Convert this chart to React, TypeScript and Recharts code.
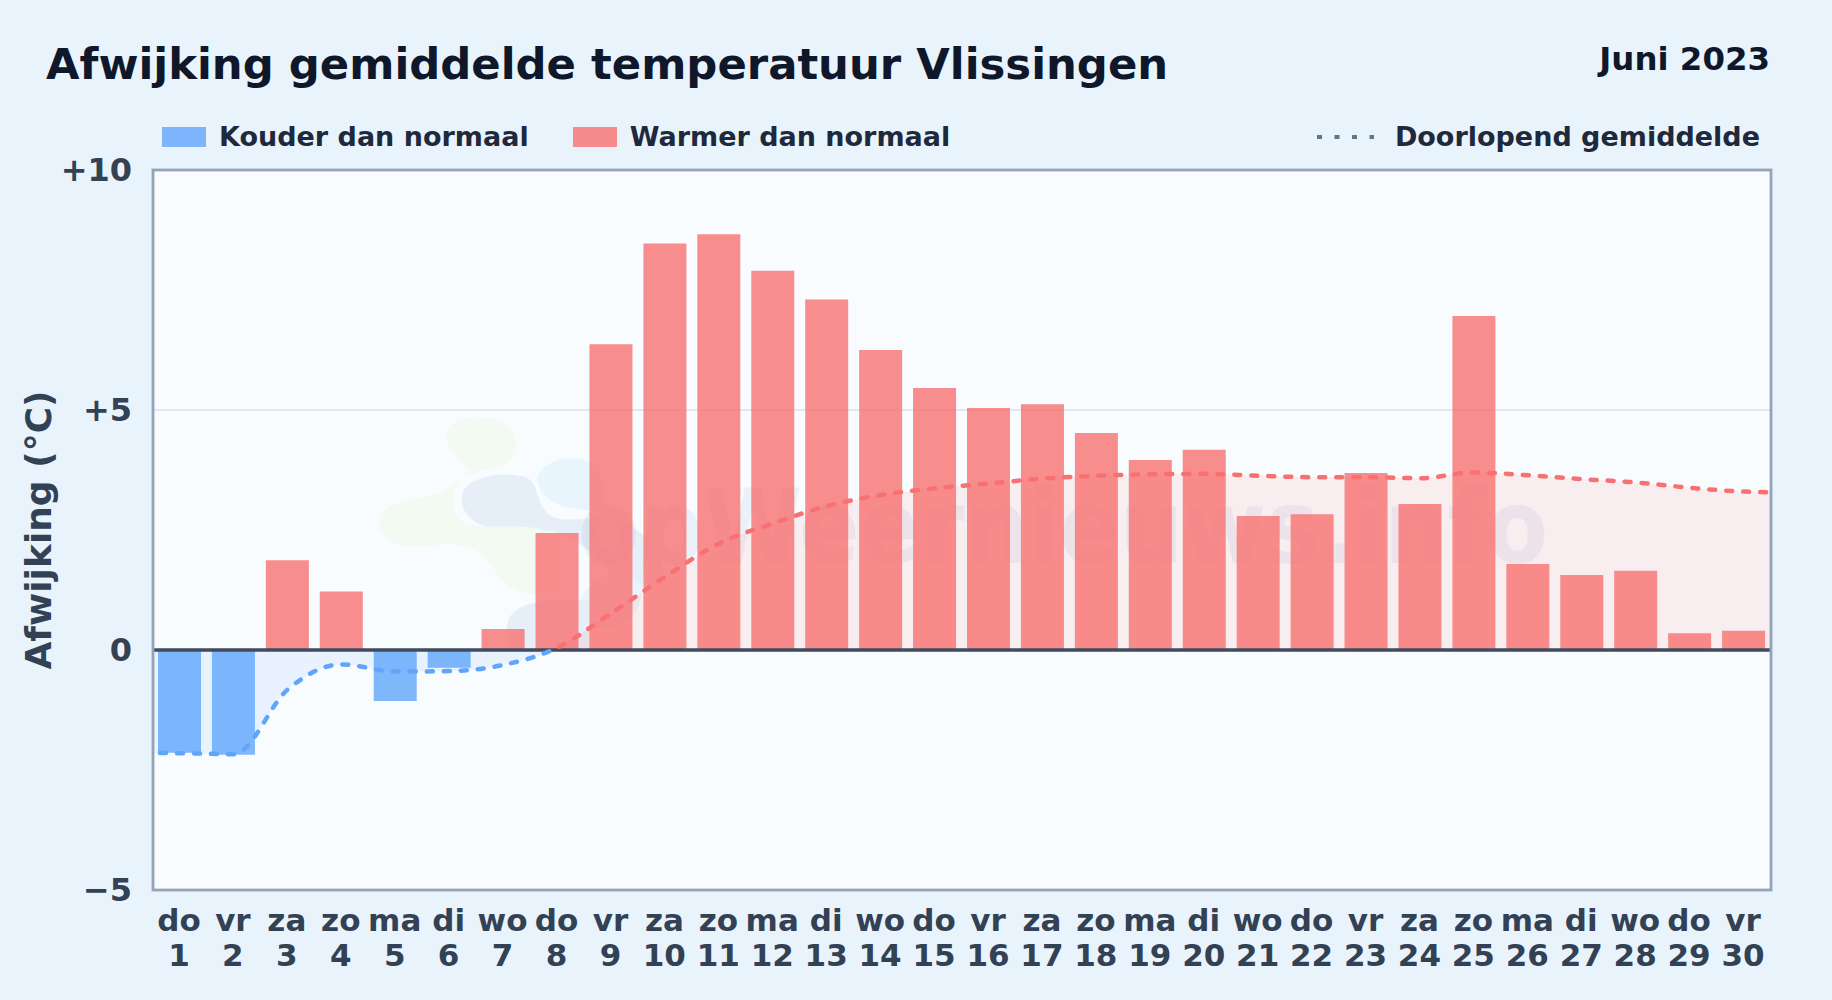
import { ComposedChart, Bar, Line, Area, Cell, XAxis, YAxis, CartesianGrid, ReferenceLine, Label } from 'recharts'

const WEEKDAYS = ['do', 'vr', 'za', 'zo', 'ma', 'di', 'wo', 'do', 'vr', 'za', 'zo', 'ma', 'di', 'wo', 'do', 'vr', 'za', 'zo', 'ma', 'di', 'wo', 'do', 'vr', 'za', 'zo', 'ma', 'di', 'wo', 'do', 'vr']
const DAYS = [1, 2, 3, 4, 5, 6, 7, 8, 9, 10, 11, 12, 13, 14, 15, 16, 17, 18, 19, 20, 21, 22, 23, 24, 25, 26, 27, 28, 29, 30]
const DEVIATION = [-2.14, -2.18, 1.87, 1.22, -1.06, -0.37, 0.44, 2.44, 6.37, 8.47, 8.66, 7.9, 7.3, 6.25, 5.46, 5.04, 5.12, 4.52, 3.96, 4.17, 2.79, 2.83, 3.69, 3.04, 6.96, 1.79, 1.56, 1.65, 0.35, 0.4]
const RUNNING_AVG = [-2.15, -2.17, -0.82, -0.3, -0.45, -0.44, -0.31, 0.05, 0.77, 1.53, 2.22, 2.64, 3.0, 3.23, 3.37, 3.47, 3.57, 3.63, 3.66, 3.67, 3.63, 3.6, 3.6, 3.58, 3.7, 3.64, 3.56, 3.49, 3.38, 3.3]
// the line runs on past the plot edges and gets clipped there
const AVG_START = -2.14
const AVG_END = 3.28
const Y_TICKS = [-5, 0, 5, 10]

const COLD = '#60a5fa'
const WARM = '#f87171'
const FONT = '"DejaVu Sans", sans-serif'

const data = [
  { day: 0, avg: AVG_START },
  ...DAYS.map((day, i) => ({ day, value: DEVIATION[i], avg: RUNNING_AVG[i] })),
  { day: 31, avg: AVG_END },
]

const avgMax = Math.max(...RUNNING_AVG)
const avgMin = Math.min(AVG_START, ...RUNNING_AVG)
const zeroOffset = avgMax / (avgMax - avgMin)

function formatY(v: number) {
  if (v > 0) return `+${v}`
  if (v < 0) return `\u2212${-v}`
  return '0'
}

function DayTick({ x, y, payload }: any) {
  return (
    <text x={x - 1} textAnchor="middle" fill="#334155" fontFamily={FONT} fontWeight={700} fontSize={31}>
      <tspan x={x - 1} y={y + 33}>{WEEKDAYS[payload.value - 1]}</tspan>
      <tspan x={x - 1} y={y + 68}>{payload.value}</tspan>
    </text>
  )
}

function LegendSwatch({ color }: { color: string }) {
  return <span style={{ display: 'inline-block', width: 44, height: 20, background: color, opacity: 0.8, marginRight: 13 }} />
}

function Watermark() {
  return (
    <g>
      <path d="M447 432 C450 415 495 410 512 430 C522 445 515 462 500 468 C470 470 455 480 450 487 C435 500 405 495 385 510 C372 525 380 545 415 547 C440 545 460 540 480 553 C495 565 500 590 530 594 L560 590 L560 520 C540 525 500 530 470 525 C445 520 450 480 470 470 C455 460 445 445 447 432 Z" fill="#f2faf1" />
      <path d="M462 495 C465 478 500 470 525 477 C540 482 535 505 550 515 C565 525 590 515 620 518 L650 540 L640 600 C610 580 590 535 545 530 C510 522 490 532 475 522 C465 515 460 505 462 495 Z" fill="#e6eff8" />
      <path d="M537 478 C545 455 585 452 600 470 L605 510 C570 512 540 505 537 478 Z" fill="#e9f5fd" />
      <path d="M580 600 C590 575 625 565 640 585 C645 610 625 630 600 630 C590 625 582 615 580 600 Z" fill="#e9f5fd" />
      <path d="M507 625 C510 605 535 600 570 600 L590 600 L590 648 L510 648 C507 640 506 632 507 625 Z" fill="#e6eff8" />
      <text x={578} y={563} textLength={970} lengthAdjust="spacingAndGlyphs" fontFamily={FONT} fontWeight={700} fontSize={104} fill="#5b7fb8" opacity={0.08}>opWeernieuws.info</text>
    </g>
  )
}

export default function App() {
  return (
    <div style={{ position: 'absolute', left: 0, top: 0, width: 1832, height: 1000, background: '#e8f3fc', overflow: 'hidden', fontFamily: FONT }}>
      <div style={{ position: 'absolute', left: 46, top: 37, fontSize: 43.35, fontWeight: 700, color: '#0f172a', lineHeight: '54px', whiteSpace: 'nowrap' }}>
        Afwijking gemiddelde temperatuur Vlissingen
      </div>
      <div style={{ position: 'absolute', right: 62, top: 39, fontSize: 32.4, fontWeight: 700, color: '#0f172a', lineHeight: '40px', whiteSpace: 'nowrap' }}>
        Juni 2023
      </div>
      <div style={{ position: 'absolute', left: 162, top: 120, display: 'flex', alignItems: 'center', fontSize: 27, fontWeight: 700, color: '#1e293b', lineHeight: '34px', whiteSpace: 'nowrap' }}>
        <LegendSwatch color={COLD} />
        <span style={{ marginRight: 44 }}>Kouder dan normaal</span>
        <LegendSwatch color={WARM} />
        <span>Warmer dan normaal</span>
      </div>
      <div style={{ position: 'absolute', right: 72, top: 120, display: 'flex', alignItems: 'center', fontSize: 27, fontWeight: 700, color: '#1e293b', lineHeight: '34px', whiteSpace: 'nowrap' }}>
        <svg width={57} height={6} style={{ marginRight: 21 }}>
          <line x1={0} x2={57} y1={3} y2={3} stroke="#64748b" strokeWidth={4} strokeDasharray="5 12.5" />
        </svg>
        <span>Doorlopend gemiddelde</span>
      </div>

      <svg width={1832} height={1000} style={{ position: 'absolute', left: 0, top: 0 }}>
        <rect x={153} y={170} width={1618} height={720} fill="#f8fcff" />
        <Watermark />
      </svg>

      <div style={{ position: 'absolute', left: 0, top: 0 }}>
        <ComposedChart width={1832} height={1000} data={data} margin={{ top: 170, right: 61, bottom: 80, left: 93 }}>
          <defs>
            <linearGradient id="avgStroke" x1="0" y1="0" x2="0" y2="1">
              <stop offset={zeroOffset} stopColor={WARM} />
              <stop offset={zeroOffset} stopColor={COLD} />
            </linearGradient>
            <linearGradient id="avgFill" x1="0" y1="0" x2="0" y2="1">
              <stop offset={zeroOffset} stopColor={WARM} stopOpacity={0.18} />
              <stop offset={zeroOffset} stopColor={COLD} stopOpacity={0.18} />
            </linearGradient>
          </defs>
          <CartesianGrid vertical={false} stroke="#e2e8f0" strokeWidth={2} />
          <XAxis
            type="number"
            dataKey="day"
            domain={[0.5, 30.5]}
            allowDataOverflow
            ticks={DAYS}
            interval={0}
            axisLine={false}
            tickLine={false}
            tick={<DayTick />}
          />
          <YAxis
            type="number"
            domain={[-5, 10]}
            ticks={Y_TICKS}
            width={60}
            axisLine={false}
            tickLine={false}
            tickSize={0}
            tickMargin={21}
            tickFormatter={formatY}
            tick={{ fill: '#334155', fontFamily: FONT, fontWeight: 700, fontSize: 32 }}
          >
            <Label value="Afwijking (°C)" angle={-90} position="center" dx={-85} fill="#334155" fontFamily={FONT} fontWeight={700} fontSize={36} />
          </YAxis>
          <Area dataKey="avg" type="monotone" fill="url(#avgFill)" stroke="none" baseValue={0} isAnimationActive={false} dot={false} activeDot={false} />
          <Bar dataKey="value" barSize={43} fillOpacity={0.8} isAnimationActive={false}>
            {data.map((d, i) => <Cell key={i} fill={(d.value ?? 0) < 0 ? COLD : WARM} />)}
          </Bar>
          <ReferenceLine y={0} stroke="#404b5e" strokeWidth={3.7} />
          <Line dataKey="avg" type="monotone" stroke="url(#avgStroke)" strokeWidth={4.5} strokeDasharray="6 11" strokeLinecap="round" dot={false} activeDot={false} isAnimationActive={false} />
        </ComposedChart>
      </div>

      <svg width={1832} height={1000} style={{ position: 'absolute', left: 0, top: 0, pointerEvents: 'none' }}>
        <rect x={153} y={170} width={1618} height={720} fill="none" stroke="#94a3b8" strokeWidth={2.8} />
      </svg>
    </div>
  )
}
